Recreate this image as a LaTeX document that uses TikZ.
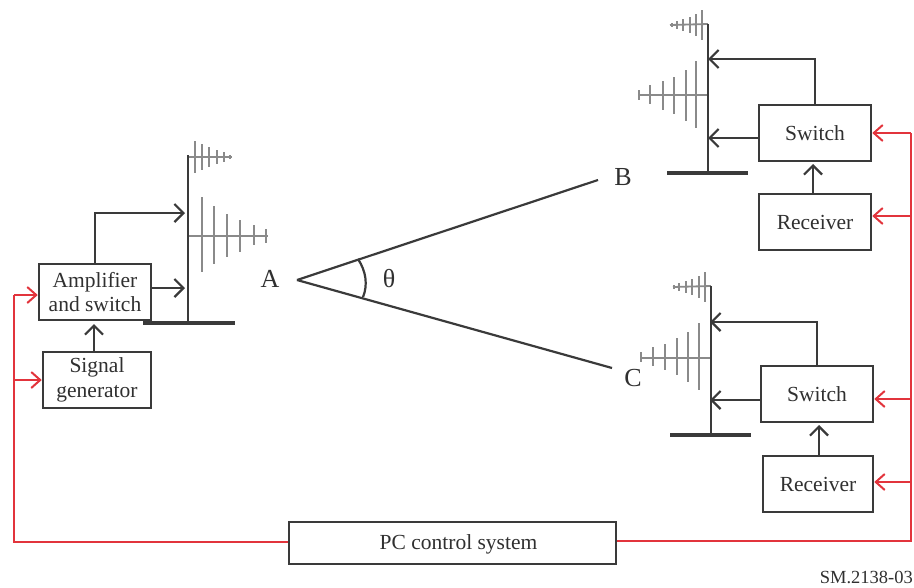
\documentclass[tikz,border=0pt]{standalone}
\usepackage{fontspec}
\setmainfont{Liberation Serif}
\usetikzlibrary{arrows.meta}
\definecolor{ink}{HTML}{3A3A3A}
\definecolor{redline}{HTML}{E2343C}
\definecolor{elem}{HTML}{8A8A8A}
\definecolor{txt}{HTML}{303030}
\tikzset{
  blockbox/.style={draw=ink,line width=2.5pt,fill=white,align=center,inner sep=0pt,text=txt,font=\fontsize{21.5}{24.5}\selectfont},
  conn/.style={draw=ink,line width=2.2pt,-{Straight Barb[length=9pt,width=18pt,line width=2.2pt]}},
  redconn/.style={draw=redline,line width=2pt,-{Straight Barb[length=9pt,width=16pt,line width=2pt]}},
  redplain/.style={draw=redline,line width=2pt},
  mast/.style={draw=ink,line width=2.6pt},
  basebar/.style={draw=ink,line width=3.8pt},
  boom/.style={draw=elem,line width=1.8pt},
  element/.style={draw=elem,line width=2.6pt},
  pathline/.style={draw=ink,line width=2.2pt},
  lab/.style={inner sep=0pt,text=txt,font=\fontsize{#1}{#1}\selectfont},
  lab/.default=26
}
\begin{document}
\begin{tikzpicture}[x=1pt,y=-1pt]
\useasboundingbox (0,0) rectangle (914,587);
% ---- boxes
\node[blockbox,minimum width=112pt,minimum height=56pt] (amp) at (95,292) {Amplifier\\and switch};
\node[blockbox,minimum width=108pt,minimum height=56pt] (sig) at (97,380) {Signal\\generator};
\node[blockbox,minimum width=112pt,minimum height=56pt] (swb) at (815,133) {Switch};
\node[blockbox,minimum width=112pt,minimum height=56pt] (rxb) at (815,222) {Receiver};
\node[blockbox,minimum width=112pt,minimum height=56pt] (swc) at (817,394) {Switch};
\node[blockbox,minimum width=110pt,minimum height=56pt] (rxc) at (818,484) {Receiver};
\node[blockbox,minimum width=327pt,minimum height=42pt] (pc) at (452.5,543) {};
\node[lab=21.5] (pct) at (458.5,544) {PC control system};
% ---- labels
\node[lab] (A) at (270,279) {A};
\node[lab] (theta) at (389,279) {θ};
\node[lab] (B) at (623,177) {B};
\node[lab] (C) at (633,378) {C};
\node[lab=18.5,anchor=east] (code) at (913,577) {SM.2138-03};
% ---- geometry points
\coordinate (apex) at (297,280);
\coordinate (endB) at (598,180);
\coordinate (endC) at (612,368);
\coordinate (mastLt) at (188,155);
\coordinate (mastLb) at (188,323);
\coordinate (mastBt) at (708,24);
\coordinate (mastBb) at (708,173);
\coordinate (mastCt) at (711,286);
\coordinate (mastCb) at (711,435);
% ---- sight lines
\draw[pathline] (apex) -- (endB);
\draw[pathline] (apex) -- (endC);
\draw[pathline] (358,259) .. controls (366,271) and (368,285) .. (363,297);
% ---- left antenna
\draw[boom] (188,157) -- (232,157);
\foreach \x/\h in {195/16,202/13,209/10,217/7,224/5,230/2}{\draw[element,line width=2.2pt] (\x,157-\h) -- (\x,157+\h);}
\draw[boom] (188,236) -- (268,236);
\foreach \x/\a/\b in {202/197/272,214/206/264,227/214/257,240/220/252,254/225/245,266/229/243}{\draw[element] (\x,\a) -- (\x,\b);}
\draw[mast] (mastLt) -- (mastLb);
\draw[basebar] (143,323) -- (235,323);
% ---- antenna B
\draw[boom] (670,25) -- (mastBt);
\foreach \x/\h in {702/15,696/11,690/8,683/6,677/4,672/2}{\draw[element,line width=2.2pt] (\x,25-\h) -- (\x,25+\h);}
\draw[boom] (638,95) -- (708,95);
\foreach \x/\a/\b in {696/61/128,686/70/121,674/77/114,663/81/110,650/85/104,639/90/100}{\draw[element] (\x,\a) -- (\x,\b);}
\draw[mast] (mastBt) -- (mastBb);
\draw[basebar] (667,173) -- (748,173);
% ---- antenna C
\draw[boom] (673,287) -- (mastCt);
\foreach \x/\h in {705/15,699/11,692/8,686/6,679/4,674/2}{\draw[element,line width=2.2pt] (\x,287-\h) -- (\x,287+\h);}
\draw[boom] (641,358) -- (711,358);
\foreach \x/\a/\b in {699/323/390,688/332/382,677/338/375,665/344/370,653/347/366,641/352/362}{\draw[element] (\x,\a) -- (\x,\b);}
\draw[mast] (mastCt) -- (mastCb);
\draw[basebar] (670,435) -- (751,435);
% ---- black connectors
\coordinate (l1) at (185,213);
\coordinate (l2) at (185,288);
\coordinate (l3) at (94,324);
\coordinate (b1) at (708,59);
\coordinate (b2) at (708,138);
\coordinate (b3) at (813,164);
\coordinate (c1) at (710,322);
\coordinate (c2) at (710,400);
\coordinate (c3) at (819,425);
\draw[conn] (amp.north) -- (amp.north |- l1) -- (l1);
\draw[conn] (amp.east |- l2) -- (l2);
\draw[conn] (sig.north -| l3) -- (l3);
\draw[conn] (swb.north) -- (swb.north |- b1) -- (b1);
\draw[conn] (swb.west |- b2) -- (b2);
\draw[conn] (rxb.north -| b3) -- (b3);
\draw[conn] (swc.north) -- (swc.north |- c1) -- (c1);
\draw[conn] (swc.west |- c2) -- (c2);
\draw[conn] (rxc.north -| c3) -- (c3);
% ---- red connectors
\coordinate (rr) at (911,133);
\coordinate (rb) at (911,541);
\coordinate (ll) at (14,295);
\coordinate (lb) at (14,542);
\coordinate (r2) at (911,216);
\coordinate (r3) at (911,399);
\coordinate (r4) at (911,482);
\draw[redplain] (pc.east |- rb) -- (rb) -- (rr);
\draw[redconn] (rr) -- (swb.east |- rr);
\draw[redconn] (r2) -- (rxb.east |- r2);
\draw[redconn] (r3) -- (swc.east |- r3);
\draw[redconn] (r4) -- (rxc.east |- r4);
\draw[redplain] (pc.west |- lb) -- (lb) -- (ll);
\draw[redconn] (ll) -- (amp.west |- ll);
\draw[redconn] (14,380) -- (sig.west);
\end{tikzpicture}
\end{document}
